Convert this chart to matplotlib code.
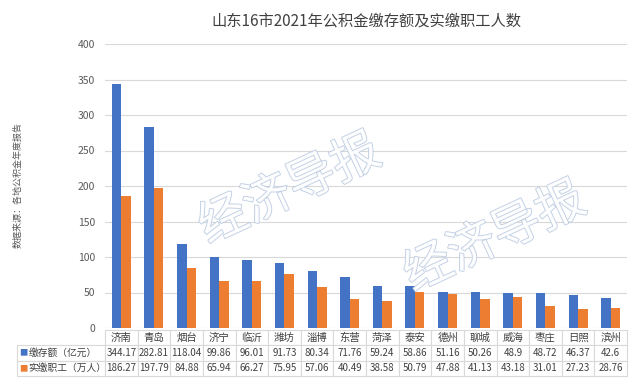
import matplotlib.pyplot as plt
import matplotlib.patheffects as pe
import numpy as np

plt.rcParams['font.family'] = ['Noto Sans CJK SC', 'DejaVu Sans']

cities = ["济南", "青岛", "烟台", "济宁", "临沂", "潍坊", "淄博", "东营",
          "菏泽", "泰安", "德州", "聊城", "威海", "枣庄", "日照", "滨州"]
deposit = [344.17, 282.81, 118.04, 99.86, 96.01, 91.73, 80.34, 71.76,
           59.24, 58.86, 51.16, 50.26, 48.9, 48.72, 46.37, 42.6]
workers = [186.27, 197.79, 84.88, 65.94, 66.27, 75.95, 57.06, 40.49,
           38.58, 50.79, 47.88, 41.13, 43.18, 31.01, 27.23, 28.76]
series_names = ["缴存额（亿元）", "实缴职工（万人）"]
colors = ["#4472C4", "#ED7D31"]

fig = plt.figure(figsize=(6.4, 3.79), dpi=100)
ax = fig.add_axes([105 / 640, 1 - 328 / 379, 522 / 640, 284 / 379])

x = np.arange(len(cities))
w = 0.29
ax.bar(x - w / 2, deposit, w, color=colors[0], zorder=3)
ax.bar(x + w / 2, workers, w, color=colors[1], zorder=3)

ax.set_xlim(-0.5, len(cities) - 0.5)
ax.set_ylim(0, 400)
ax.set_yticks(range(0, 401, 50))
ax.set_xticks([])
ax.grid(axis='y', color='#d9d9d9', linewidth=0.8, zorder=0)
for s in ax.spines.values():
    s.set_visible(False)
ax.tick_params(axis='y', length=0, labelsize=7.5, labelcolor='#595959', pad=7)

ax.set_title("山东16市2021年公积金缴存额及实缴职工人数", fontsize=11,
             color='#404040', pad=13)
fig.text(18 / 640, 1 - 185 / 379, "数据来源：各地公积金年度报告", rotation=90,
         fontsize=6.5, color='#595959', ha='center', va='center')

# data table under the plot (first column holds the series names)
label_w = 88
col_w = 522 / len(cities)
total_w = label_w + 522
cell_text = [[series_names[0]] + [f"{v:g}" for v in deposit],
             [series_names[1]] + [f"{v:g}" for v in workers]]
tbl = ax.table(cellText=cell_text, colLabels=[""] + cities,
               colWidths=[label_w / total_w] + [col_w / total_w] * len(cities),
               cellLoc='center',
               bbox=[-label_w / 522, -48 / 284, total_w / 522, 46 / 284])
tbl.auto_set_font_size(False)
for (r, c), cell in tbl.get_celld().items():
    cell.set_edgecolor('#d9d9d9')
    cell.set_linewidth(0.8)
    cell.get_text().set_fontsize(7 if c > 0 else 7)
    cell.get_text().set_color('#404040')
    if c == 0:
        cell.get_text().set_ha('left')
        cell.PAD = 0.13
        cell._loc = 'left'
    if r == 0 and c == 0:
        cell.visible_edges = ''
    if r == 0 and c > 0:
        cell.get_text().set_fontsize(7.5)
fig.canvas.draw()
for i, col in enumerate(colors):
    cell = tbl[(i + 1, 0)]
    bb = cell.get_window_extent(fig.canvas.get_renderer())
    fig.text((bb.x0 + 2) / 640, (bb.y0 + bb.height / 2) / 379, "■",
             color=col, fontsize=6, va='center', ha='left')

# watermark
for (wx, wy) in [(290, 190), (495, 238)]:
    fig.text(wx / 640, 1 - wy / 379, "经济导报", fontsize=35, rotation=25,
             ha='center', va='center', color='white', alpha=0.9,
             path_effects=[pe.withStroke(linewidth=1.2, foreground='#b8c8e0')],
             zorder=10)

fig.savefig("out.png", dpi=100)
